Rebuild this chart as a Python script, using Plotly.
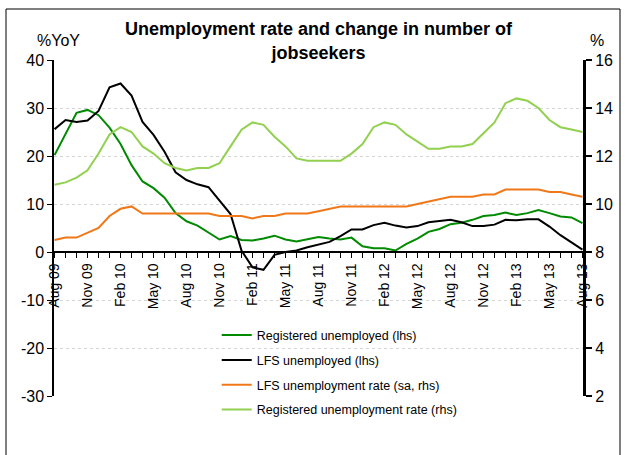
import plotly.graph_objects as go

months = ["Aug 09","Sep 09","Oct 09","Nov 09","Dec 09","Jan 10","Feb 10","Mar 10","Apr 10","May 10","Jun 10","Jul 10",
          "Aug 10","Sep 10","Oct 10","Nov 10","Dec 10","Jan 11","Feb 11","Mar 11","Apr 11","May 11","Jun 11","Jul 11",
          "Aug 11","Sep 11","Oct 11","Nov 11","Dec 11","Jan 12","Feb 12","Mar 12","Apr 12","May 12","Jun 12","Jul 12",
          "Aug 12","Sep 12","Oct 12","Nov 12","Dec 12","Jan 13","Feb 13","Mar 13","Apr 13","May 13","Jun 13","Jul 13",
          "Aug 13"]

registered_unemployed = [20.2, 24.7, 29.0, 29.6, 28.5, 25.9, 22.5, 18.1, 14.7, 13.3, 11.3, 8.1,
                         6.4, 5.5, 4.1, 2.6, 3.3, 2.5, 2.4, 2.8, 3.4, 2.6, 2.2, 2.7,
                         3.1, 2.8, 2.6, 3.0, 1.2, 0.8, 0.8, 0.3, 1.7, 2.8, 4.2, 4.8,
                         5.8, 6.1, 6.7, 7.5, 7.7, 8.2, 7.7, 8.1, 8.75, 8.1, 7.4, 7.2,
                         6.0]

lfs_unemployed = [25.6, 27.5, 27.1, 27.4, 29.4, 34.3, 35.1, 32.6, 27.1, 24.4, 20.9, 16.6,
                  15.0, 14.1, 13.5, 10.8, 7.9, 0.3, -3.2, -3.7, -0.6, 0.0, 0.3, 1.0,
                  1.6, 2.1, 3.3, 4.7, 4.7, 5.6, 6.1, 5.5, 5.1, 5.4, 6.2, 6.4,
                  6.7, 6.2, 5.4, 5.4, 5.7, 6.7, 6.6, 6.8, 6.8, 5.3, 3.5, 2.0,
                  0.5]

lfs_rate = [8.5, 8.6, 8.6, 8.8, 9.0, 9.5, 9.8, 9.9, 9.6, 9.6, 9.6, 9.6,
            9.6, 9.6, 9.6, 9.5, 9.5, 9.5, 9.4, 9.5, 9.5, 9.6, 9.6, 9.6,
            9.7, 9.8, 9.9, 9.9, 9.9, 9.9, 9.9, 9.9, 9.9, 10.0, 10.1, 10.2,
            10.3, 10.3, 10.3, 10.4, 10.4, 10.6, 10.6, 10.6, 10.6, 10.5, 10.5, 10.4,
            10.3]

registered_rate = [10.8, 10.9, 11.1, 11.4, 12.1, 12.9, 13.2, 13.0, 12.4, 12.1, 11.7, 11.5,
                   11.4, 11.5, 11.5, 11.7, 12.4, 13.1, 13.4, 13.3, 12.8, 12.4, 11.9, 11.8,
                   11.8, 11.8, 11.8, 12.1, 12.5, 13.2, 13.4, 13.3, 12.9, 12.6, 12.3, 12.3,
                   12.4, 12.4, 12.5, 12.95, 13.4, 14.2, 14.4, 14.3, 14.0, 13.5, 13.2, 13.1,
                   13.0]

left_ticks = [-30, -20, -10, 0, 10, 20, 30, 40]
left_tick_text = ["-30", "-20", "-10", "0", "10", "20", "30", "40"]
right_ticks = [2, 4, 6, 8, 10, 12, 14, 16]

tick_text = [m if i % 3 == 0 else "" for i, m in enumerate(months)]

FONT = "Liberation Sans Narrow, Arial Narrow, Liberation Sans, Arial, sans-serif"

fig = go.Figure()
fig.add_trace(go.Scatter(x=months, y=registered_unemployed, mode="lines", name="Registered unemployed (lhs)",
                         line=dict(color="#008a00", width=2), legendgroup="a", yaxis="y"))
fig.add_trace(go.Scatter(x=months, y=lfs_unemployed, mode="lines", name="LFS unemployed (lhs)",
                         line=dict(color="#000000", width=2), legendgroup="b", yaxis="y"))
fig.add_trace(go.Scatter(x=months, y=lfs_rate, mode="lines", name="LFS unemployment rate (sa, rhs)",
                         line=dict(color="#f07818", width=2), legendgroup="c", yaxis="y2"))
fig.add_trace(go.Scatter(x=months, y=registered_rate, mode="lines", name="Registered unemployment rate (rhs)",
                         line=dict(color="#92d050", width=2), legendgroup="d", yaxis="y2"))

fig.update_layout(
    width=626, height=455,
    margin=dict(l=54, r=43, t=60, b=59),
    paper_bgcolor="white", plot_bgcolor="white",
    font=dict(family=FONT, size=15, color="black"),
    title=dict(text="<b>Unemployment rate and change in number of<br>jobseekers</b>",
               x=0.5, xref="paper", xanchor="center", y=0.922, yref="container", yanchor="top",
               font=dict(family="Liberation Sans, Arial, sans-serif", size=18, color="black")),
    xaxis=dict(type="category", categoryorder="array", categoryarray=months,
               range=[-0.05, 48.05], anchor="free", position=3/7,
               tickmode="array", tickvals=months, ticktext=tick_text, tickangle=-90,
               ticks="outside", ticklen=5, tickcolor="black", showline=True, linecolor="black",
               linewidth=1.5, showgrid=False, zeroline=False, tickfont=dict(size=14)),
    yaxis=dict(range=[-30, 40], tickmode="array", tickvals=left_ticks, ticktext=left_tick_text,
               ticks="outside", ticklen=5, tickcolor="black",
               showline=True, linecolor="black", linewidth=1.5, showgrid=True, gridcolor="#d4d4d4",
               griddash="dot", gridwidth=1, zeroline=False, tickfont=dict(size=16)),
    yaxis2=dict(range=[2, 16], tickmode="array", tickvals=right_ticks, overlaying="y", side="right",
                ticks="outside", ticklen=6, tickcolor="black", tickwidth=2, showline=True,
                linecolor="black", linewidth=3, showgrid=False, zeroline=False, tickfont=dict(size=16)),
    legend=dict(x=0.3076, y=0.225, xanchor="left", yanchor="top", bgcolor="rgba(0,0,0,0)",
                traceorder="grouped", tracegroupgap=5.6, font=dict(size=12.5)),
    showlegend=True,
)

fig.add_annotation(text="%YoY", xref="paper", yref="paper", x=(58-54)/529, y=(396-40)/336,
                   showarrow=False, font=dict(size=16), xanchor="center", yanchor="middle")
fig.add_annotation(text="%", xref="paper", yref="paper", x=(597-54)/529, y=(396-41)/336,
                   showarrow=False, font=dict(size=16), xanchor="center", yanchor="middle")

fig.add_shape(type="rect", xref="paper", yref="paper",
              x0=(6-54)/529, x1=(620-54)/529, y0=(396-470)/336, y1=(396-9)/336,
              line=dict(color="black", width=1), fillcolor="rgba(0,0,0,0)", layer="above")

fig.write_html("out.html", config={"displayModeBar": False},
               post_script="document.body.style.margin='0px';")
